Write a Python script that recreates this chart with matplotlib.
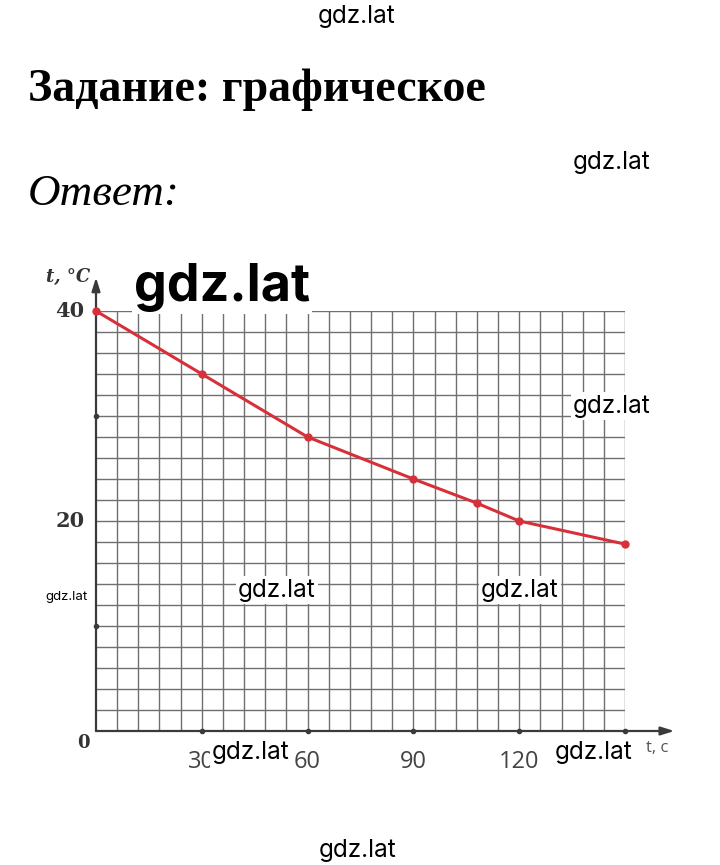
import matplotlib
matplotlib.use('Agg')
import matplotlib.pyplot as plt
import numpy as np

# data
time_s = [0, 30, 60, 90, 108, 120, 150]
temp_c = [40, 34, 28, 24, 21.7, 20, 17.8]
x_ticks = [30, 60, 90, 120]
y_ticks = [20, 40]

W, H = 720, 865
fig = plt.figure(figsize=(W / 100, H / 100), dpi=100)
fig.patch.set_facecolor('white')

def fx(px):
    return px / W

def fy(py):
    return 1 - py / H

# axes placed so that x 0..150 -> px 96..625, y 0..40 -> px 731..311
ax = fig.add_axes([fx(96), fy(731), (625 - 96) / W, (731 - 311) / H])
ax.set_xlim(0, 150)
ax.set_ylim(0, 40)
for s in ax.spines.values():
    s.set_visible(False)
ax.set_xticks([])
ax.set_yticks([])
ax.set_facecolor('none')

grid_c = '#707070'
for gx in np.arange(6, 151, 6):
    ax.plot([gx, gx], [0, 40], color=grid_c, lw=1.0, zorder=1, solid_capstyle='butt')
for gy in np.arange(2, 41, 2):
    ax.plot([0, 150], [gy, gy], color=grid_c, lw=1.0, zorder=1, solid_capstyle='butt')

# axes with arrows
axis_c = '#3a3a3a'
ax.annotate('', xy=(0, 43.2), xytext=(0, 0), annotation_clip=False,
            arrowprops=dict(arrowstyle='-|>,head_length=0.8,head_width=0.25',
                            color=axis_c, lw=1.6, shrinkA=0, shrinkB=0))
ax.annotate('', xy=(164, 0), xytext=(0, 0), annotation_clip=False,
            arrowprops=dict(arrowstyle='-|>,head_length=0.8,head_width=0.25',
                            color=axis_c, lw=1.6, shrinkA=0, shrinkB=0))
ax.plot([30, 60, 90, 120, 150], [0] * 5, 'o', color=axis_c, ms=3, clip_on=False, zorder=3)
ax.plot([0, 0], [10, 30], 'o', color=axis_c, ms=3, clip_on=False, zorder=3)

# the curve
ax.plot(time_s, temp_c, color='#d8303a', lw=2.2, zorder=4, clip_on=False)
ax.plot(time_s, temp_c, 'o', color='#d8303a', ms=5, zorder=5, clip_on=False)

# tick labels
for v in y_ticks:
    ax.text(-3.2, v, str(v), ha='right', va='center', fontsize=15,
            fontweight='bold', family='DejaVu Serif', color='#333333', clip_on=False)
ax.text(-3.7, -1.1, '0', ha='center', va='center', fontsize=13,
        fontweight='bold', family='DejaVu Serif', color='#333333', clip_on=False)
for v in x_ticks:
    ax.text(v, -3.0, str(v), ha='center', va='center', fontsize=17,
            family='Open Sans', color='#444444', clip_on=False)
ax.text(-8, 43.2, 't, °C', ha='center', va='center', fontsize=13, fontweight='bold',
        style='italic', family='DejaVu Serif', color='#333333', clip_on=False)
ax.text(159, -1.6, 't, c', ha='center', va='center', fontsize=12,
        family='Open Sans', color='#555555', clip_on=False)

# headings
fig.text(fx(28), fy(90), 'Задание: графическое', ha='left', va='center',
         fontsize=33, fontweight='bold', family='Liberation Serif', color='black')
fig.text(fx(28), fy(194), 'Ответ:', ha='left', va='center',
         fontsize=32.5, style='italic', family='Liberation Serif', color='black')

# watermarks
wm = dict(family='Inter', color='black', ha='center', va='center')
box = dict(facecolor='white', edgecolor='none', pad=1.5)
fig.text(fx(357), fy(17), 'gdz.lat', fontsize=17.5, **wm)
fig.text(fx(612), fy(162), 'gdz.lat', fontsize=17.5, **wm)
fig.text(fx(222), fy(287), 'gdz.lat', fontsize=37.5, fontweight='bold', bbox=box, **wm)
fig.text(fx(612), fy(406), 'gdz.lat', fontsize=17.5, bbox=box, **wm)
fig.text(fx(277), fy(590), 'gdz.lat', fontsize=17.5, bbox=box, **wm)
fig.text(fx(520), fy(590), 'gdz.lat', fontsize=17.5, bbox=box, **wm)
fig.text(fx(67), fy(597), 'gdz.lat', fontsize=9.5, **wm)
fig.text(fx(251), fy(753), 'gdz.lat', fontsize=17.5, bbox=box, **wm)
fig.text(fx(594), fy(753), 'gdz.lat', fontsize=17.5, bbox=box, **wm)
fig.text(fx(358), fy(850), 'gdz.lat', fontsize=17.5, **wm)

fig.savefig('out.png', dpi=100, facecolor='white')
